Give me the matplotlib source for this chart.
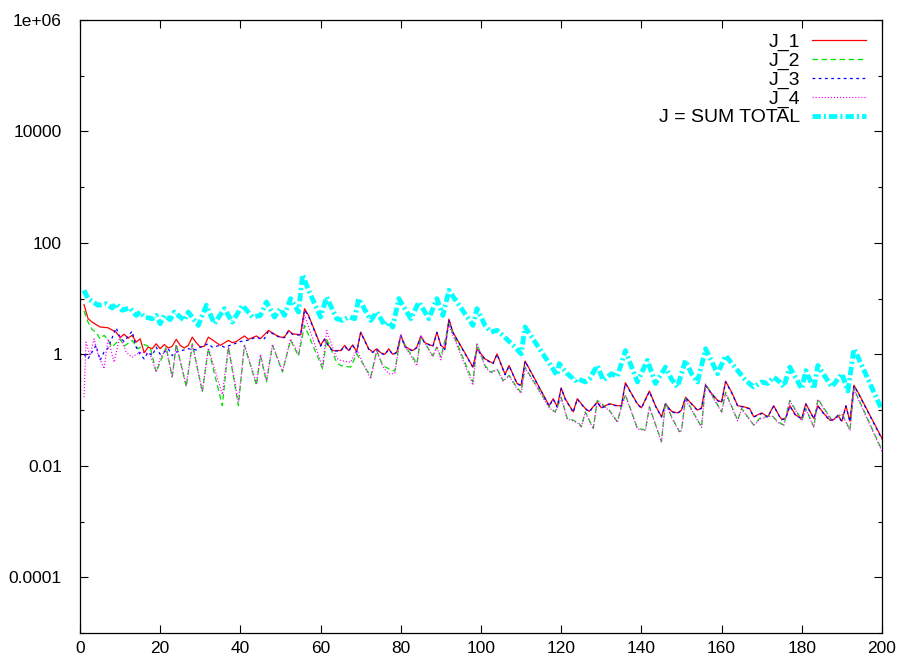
import numpy as np
import matplotlib
matplotlib.use("Agg")
import matplotlib.pyplot as plt
from matplotlib.ticker import FixedLocator, FixedFormatter, NullFormatter

# values (log-scale y)
j1_x = [1, 2, 3, 5, 7, 9, 10, 11, 12, 13, 14, 15, 16, 17, 18, 19, 20, 21, 22, 23,
        24, 25, 26, 27, 28, 29, 30, 31, 32, 34, 35, 37, 38, 39, 41, 42, 44, 45, 47, 49,
        50, 51, 52, 53, 55, 56, 57, 60, 61, 62, 63, 65, 66, 67, 68, 69, 70, 71, 72, 73,
        74, 75, 76, 77, 78, 79, 80, 81, 82, 83, 84, 85, 86, 88, 89, 90, 91, 92, 93, 98,
        99, 101, 103, 104, 106, 107, 109, 110, 111, 117, 118, 119, 120, 121, 123, 124, 126, 127, 129, 130,
        132, 134, 135, 136, 137.5, 139, 140, 142, 143.5, 145, 146, 147.5, 149, 150, 151, 152.5, 154, 155, 156, 157.5,
        159, 160, 161, 162.5, 164, 165.5, 167, 168, 170, 171.5, 173, 174.5, 175, 176, 177, 178.5, 180, 181, 183, 184,
        185.5, 187, 188, 189, 190, 191, 192, 193, 194, 200]
j1_y = [7.8, 4.4, 3.8, 3.1, 3.0, 2.5, 2.0, 2.3, 1.95, 2.2, 1.66, 1.9, 1.07, 1.35, 1.26, 1.55, 1.26, 1.5, 1.3, 1.4,
        1.86, 1.45, 1.3, 1.45, 2.04, 1.62, 1.35, 1.4, 2.04, 1.62, 1.45, 1.78, 1.62, 1.7, 2.14, 1.86, 2.14, 1.91, 2.69, 2.19,
        2.04, 2.04, 2.69, 2.34, 2.24, 6.6, 5.0, 1.45, 1.9, 1.45, 1.17, 1.17, 1.45, 1.17, 1.48, 1.12, 2.51, 1.78, 1.26, 1.1,
        1.26, 1.07, 1.0, 1.26, 1.0, 1.1, 2.19, 1.41, 1.26, 1.17, 1.35, 2.14, 1.62, 1.41, 2.51, 1.45, 1.26, 4.27, 2.51, 0.59,
        1.26, 0.83, 0.69, 1.02, 0.44, 0.63, 0.30, 0.28, 0.76, 0.12, 0.16, 0.115, 0.25, 0.16, 0.093, 0.16, 0.107, 0.095, 0.14, 0.11,
        0.13, 0.12, 0.12, 0.31, 0.20, 0.13, 0.11, 0.22, 0.12, 0.076, 0.13, 0.095, 0.089, 0.10, 0.17, 0.13, 0.10, 0.11, 0.28, 0.20,
        0.15, 0.14, 0.33, 0.21, 0.12, 0.115, 0.107, 0.076, 0.089, 0.076, 0.12, 0.076, 0.068, 0.072, 0.12, 0.081, 0.071, 0.13, 0.071, 0.12,
        0.087, 0.066, 0.068, 0.081, 0.063, 0.12, 0.063, 0.28, 0.21, 0.031]

j2_x = [1, 2, 3, 4, 5, 6, 7, 8, 10, 11, 13, 14.5, 16, 17.5, 19, 20.5, 21.5, 23, 24, 26.5,
        28, 30.5, 32, 35.5, 37, 39.5, 41, 44, 45, 46.5, 48, 50.5, 52.5, 54.5, 56, 60.5, 61.5, 64, 65, 67.5,
        69, 72.5, 74, 75.5, 77, 78.5, 80, 81.5, 82.5, 84, 85, 88, 89, 90, 92, 98, 99, 101, 102.5, 104,
        105.5, 107, 109, 110, 111, 117, 118.5, 120, 121.5, 123, 124.5, 125, 126, 128, 129, 132, 134, 135, 136, 139,
        141, 142, 145, 146, 147.5, 149.5, 150, 151, 155, 156, 160, 161, 164, 165, 168, 169.5, 172.5, 174, 175.5, 177,
        180, 181, 183, 184, 187.5, 190, 192, 193, 200]
j2_y = [6.0, 3.8, 2.8, 2.5, 1.9, 2.2, 1.8, 1.35, 1.9, 1.4, 1.78, 1.26, 1.5, 1.35, 0.48, 0.89, 1.35, 0.39, 1.55, 0.26,
        1.55, 0.21, 1.26, 0.12, 1.35, 0.12, 1.45, 0.28, 0.95, 0.32, 1.45, 0.48, 1.8, 0.93, 3.3, 0.55, 1.9, 0.72, 0.63, 0.59,
        1.02, 0.40, 1.17, 0.63, 0.55, 0.50, 2.19, 1.26, 1.02, 0.68, 2.04, 0.95, 1.35, 0.89, 3.55, 0.32, 1.55, 0.63, 0.48, 0.55,
        0.34, 0.42, 0.25, 0.21, 0.59, 0.115, 0.093, 0.17, 0.071, 0.066, 0.058, 0.050, 0.093, 0.047, 0.15, 0.10, 0.062, 0.115, 0.19, 0.047,
        0.044, 0.115, 0.027, 0.14, 0.076, 0.041, 0.044, 0.16, 0.050, 0.30, 0.093, 0.21, 0.066, 0.107, 0.054, 0.071, 0.081, 0.062, 0.054, 0.15,
        0.066, 0.107, 0.050, 0.16, 0.066, 0.087, 0.044, 0.24, 0.019]

j3_x = [1, 2, 3, 4, 5, 6, 7, 9, 10, 11, 13, 14, 15, 16, 17, 18, 19, 20, 21, 22,
        23, 24, 25, 27, 29, 30, 32, 33, 35, 36, 38, 40, 42, 44, 45, 46, 47, 49,
        50, 51, 52, 53, 55, 56, 57, 60, 61, 62, 63, 65, 66, 67, 68, 69, 70, 71, 72, 73,
        74, 75, 76, 77, 78, 79, 80, 81, 82, 83, 84, 85, 86, 88, 89, 90, 91, 92, 93, 98,
        99, 101, 103, 104, 106, 107, 109, 110, 111, 117, 118, 119, 120, 121, 123, 124, 126, 127, 129, 130,
        132, 134, 135, 136, 137.5, 139, 140, 142, 143.5, 145, 146, 147.5, 149, 150, 151, 152.5, 154, 155, 156, 157.5,
        159, 160, 161, 162.5, 164, 165.5, 167, 168, 170, 171.5, 173, 174.5, 175, 176, 177, 178.5, 180, 181, 183, 184,
        185.5, 187, 188, 189, 190, 191, 192, 193, 194, 200]
j3_y = [1.0, 0.83, 1.1, 1.45, 0.78, 1.1, 1.3, 3.0, 2.0, 1.7, 2.6, 1.35, 1.0, 0.83, 1.1, 0.95, 1.35, 1.0, 1.1, 1.26,
        0.95, 1.1, 1.15, 1.26, 1.2, 1.35, 1.55, 1.35, 1.45, 1.35, 1.5, 1.7, 1.8, 2.04, 1.9, 1.91, 2.6, 2.15,
        2.0, 2.0, 2.6, 2.3, 2.2, 6.3, 4.8, 1.4, 1.85, 1.4, 1.15, 1.15, 1.4, 1.15, 1.45, 1.1, 2.45, 1.75, 1.23, 1.08,
        1.23, 1.05, 0.98, 1.23, 0.98, 1.08, 2.15, 1.38, 1.23, 1.15, 1.32, 2.1, 1.6, 1.38, 2.45, 1.42, 1.23, 4.1, 2.45, 0.58,
        1.23, 0.81, 0.68, 1.0, 0.43, 0.62, 0.295, 0.275, 0.75, 0.118, 0.157, 0.113, 0.245, 0.157, 0.091, 0.157, 0.105, 0.093, 0.137, 0.108,
        0.128, 0.118, 0.118, 0.30, 0.196, 0.128, 0.108, 0.215, 0.118, 0.075, 0.128, 0.093, 0.087, 0.098, 0.167, 0.128, 0.098, 0.108, 0.275, 0.196,
        0.147, 0.137, 0.32, 0.205, 0.118, 0.113, 0.105, 0.075, 0.087, 0.075, 0.118, 0.075, 0.067, 0.071, 0.118, 0.079, 0.07, 0.128, 0.07, 0.118,
        0.085, 0.065, 0.067, 0.079, 0.062, 0.118, 0.062, 0.27, 0.205, 0.030]

j4_x = [1, 1.5, 2.5, 3.5, 4.5, 6, 7, 8.5, 10, 11.5, 13, 14, 15.5, 17.5, 19, 20, 21.5, 23, 24, 26.5,
        28, 30.5, 32, 35.5, 37, 39.5, 41, 44, 45, 46.5, 48, 50.5, 52.5, 54.5, 56, 60.5, 61.5, 64, 65, 67.5,
        69, 72.5, 74, 75.5, 77, 78.5, 80, 81.5, 82.5, 84, 85, 88, 89, 90, 92, 98, 99, 101, 102.5, 104,
        105.5, 107, 109, 110, 111, 117, 118.5, 120, 121.5, 123, 124.5, 125, 126, 128, 129, 132, 134, 135, 136, 139,
        141, 142, 145, 146, 147.5, 149.5, 150, 151, 155, 156, 160, 161, 164, 165, 168, 169.5, 172.5, 174, 175.5, 177,
        180, 181, 183, 184, 187.5, 190, 192, 193, 200]
j4_y = [0.17, 1.66, 0.95, 1.9, 1.0, 0.55, 1.9, 0.72, 2.2, 1.1, 0.89, 1.0, 1.1, 1.0, 0.48, 0.85, 1.26, 0.39, 1.45, 0.28,
        1.5, 0.22, 1.3, 0.19, 1.4, 0.14, 1.5, 0.30, 1.0, 0.34, 1.5, 0.50, 1.9, 1.0, 5.0, 0.6, 2.69, 0.85, 0.78, 0.72,
        1.2, 0.36, 1.17, 0.6, 0.45, 0.45, 2.3, 1.2, 0.95, 0.62, 2.2, 0.9, 1.4, 0.8, 3.3, 0.28, 1.5, 0.6, 0.46, 0.53,
        0.33, 0.41, 0.24, 0.20, 0.57, 0.11, 0.09, 0.165, 0.069, 0.064, 0.056, 0.049, 0.09, 0.046, 0.145, 0.097, 0.06, 0.112, 0.185, 0.046,
        0.043, 0.112, 0.027, 0.135, 0.074, 0.04, 0.043, 0.155, 0.049, 0.29, 0.09, 0.2, 0.064, 0.104, 0.053, 0.069, 0.079, 0.06, 0.053, 0.145,
        0.064, 0.104, 0.049, 0.155, 0.064, 0.085, 0.043, 0.23, 0.018]

jt_x = [1, 2, 4.5, 6.5, 8, 9, 10.5, 12.5, 14, 15, 16, 18, 19, 20, 21, 22.5, 23.5, 25, 26, 27,
        29.5, 31.5, 33.5, 36, 38, 40.5, 43, 45, 46.5, 48.5, 50, 51, 52.5, 54.5, 55.5, 57, 60, 61.5, 64, 65.5,
        67, 68.5, 69.5, 72.5, 74, 75, 76, 77, 78, 79.5, 82.5, 84.5, 87, 89, 90.5, 92, 93, 98, 99, 101,
        102.5, 104, 105, 108.5, 110, 111, 119, 119.5, 121.5, 123.5, 124, 126, 127, 129, 130.5, 132.5, 134, 136, 139, 141.5,
        143.5, 146, 147.5, 149, 151, 152.5, 154, 156, 159, 161, 166, 168, 170, 171.5, 173, 174.5, 175.5, 177, 180, 181,
        183, 184, 187.5, 190, 191.5, 193, 194, 200]
jt_y = [14.1, 10, 7.6, 8.1, 6.8, 8.1, 6.2, 6.8, 5.0, 5.75, 4.7, 4.37, 5.0, 3.55, 5.0, 4.2, 5.75, 4.68, 4.07, 5.75,
        3.31, 7.6, 3.55, 6.6, 3.8, 7.6, 4.68, 5.0, 8.7, 4.68, 6.6, 5.0, 10, 5.75, 26.9, 14.1, 4.68, 10.7, 4.37, 4.07,
        4.7, 4.37, 10, 4.07, 5.75, 4.37, 3.31, 3.8, 3.09, 10, 4.37, 8.7, 4.37, 10, 5.0, 14.1, 11, 3.31, 6.6, 3.31,
        2.51, 2.7, 2.34, 1.35, 1.02, 3.09, 0.42, 0.68, 0.45, 0.34, 0.37, 0.32, 0.36, 0.63, 0.34, 0.45, 0.40, 1.17, 0.32, 0.78,
        0.30, 0.59, 0.36, 0.26, 0.78, 0.45, 0.32, 1.26, 0.45, 0.95, 0.34, 0.26, 0.32, 0.30, 0.39, 0.32, 0.26, 0.59, 0.24, 0.51,
        0.24, 0.63, 0.26, 0.45, 0.22, 1.26, 0.9, 0.10]

ytick_vals = [1e-4, 1e-2, 1, 1e2, 1e4, 1e6]
ytick_labels = ["0.0001", "0.01", "1", "100", "10000", "1e+06"]
yminor_vals = [1e-5, 1e-3, 1e-1, 1e1, 1e3, 1e5]
xtick_vals = [0, 20, 40, 60, 80, 100, 120, 140, 160, 180, 200]

plt.rcParams["font.family"] = ["Liberation Sans", "DejaVu Sans"]
plt.rcParams["font.size"] = 12.5
plt.rcParams["lines.scale_dashes"] = False

fig = plt.figure(figsize=(9.04, 6.63), dpi=100)
ax = fig.add_axes([80 / 904, 1 - 633 / 663, 802 / 904, 613 / 663])

ax.plot(j1_x, j1_y, color="#ff0000", lw=0.9, label="J_1")
ax.plot(j2_x, j2_y, color="#00e000", lw=0.9, dashes=(4, 2.5), label="J_2")
ax.plot(j3_x, j3_y, color="#0000ff", lw=0.9, dashes=(2, 2.5), label="J_3")
ax.plot(j4_x, j4_y, color="#ff00ff", lw=0.9, dashes=(0.8, 1.4), label="J_4")
ax.plot(jt_x, jt_y, color="#00ffff", lw=3.5, dashes=(6, 2.2, 1.5, 2.2), label="J = SUM TOTAL")

ax.set_yscale("log")
ax.set_xlim(0, 200)
ax.set_ylim(1e-5, 1e6)
ax.xaxis.set_major_locator(FixedLocator(xtick_vals))
ax.yaxis.set_major_locator(FixedLocator(ytick_vals))
ax.yaxis.set_major_formatter(FixedFormatter(ytick_labels))
ax.yaxis.set_minor_locator(FixedLocator(yminor_vals))
ax.yaxis.set_minor_formatter(NullFormatter())
ax.tick_params(which="both", direction="in", top=True, right=True, width=0.8)
ax.tick_params(which="major", length=6)
ax.tick_params(which="minor", length=3)
ax.tick_params(axis="y", pad=13)
ax.tick_params(axis="x", pad=6)
for s in ax.spines.values():
    s.set_linewidth(0.9)

ax.legend(loc="upper right", bbox_to_anchor=(0.980, 0.979), frameon=False,
          markerfirst=False, fontsize=14, handlelength=2.8, handletextpad=0.6,
          labelspacing=0.06, borderpad=0, borderaxespad=0)

fig.savefig("out.png", dpi=100, facecolor="white")
